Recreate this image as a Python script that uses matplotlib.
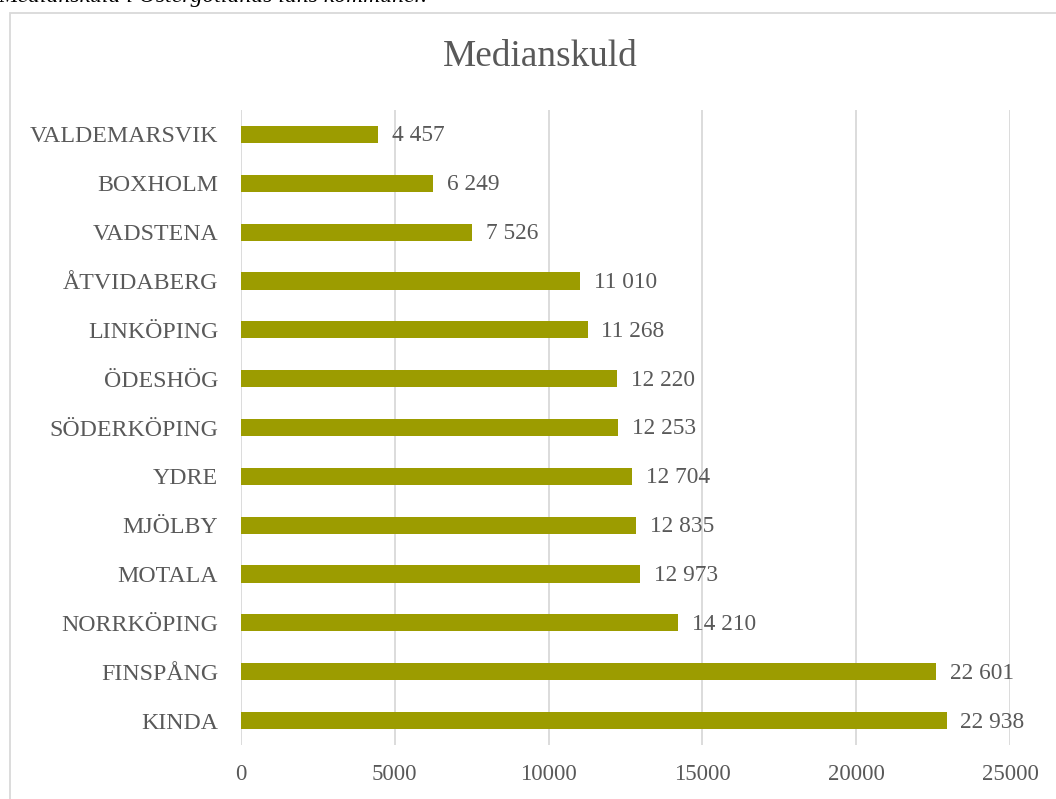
import matplotlib.pyplot as plt
from matplotlib.patches import Rectangle

kommuner = ["VALDEMARSVIK", "BOXHOLM", "VADSTENA", "ÅTVIDABERG", "LINKÖPING",
            "ÖDESHÖG", "SÖDERKÖPING", "YDRE", "MJÖLBY", "MOTALA",
            "NORRKÖPING", "FINSPÅNG", "KINDA"]
skuld = [4457, 6249, 7526, 11010, 11268, 12220, 12253, 12704, 12835, 12973,
         14210, 22601, 22938]
xticks = [0, 5000, 10000, 15000, 20000, 25000]

grey = "#595959"
plt.rcParams["font.family"] = ["Liberation Serif", "DejaVu Serif"]

fig = plt.figure(figsize=(10.56, 7.99), dpi=100)
ax = fig.add_axes([241 / 1056, 1 - 745 / 799, (1010 - 241) / 1056, 635 / 799])

y = list(range(len(kommuner)))
ax.barh(y, skuld, height=0.35, color="#9C9C00", zorder=3)
for yi, v in zip(y, skuld):
    ax.text(v + 450, yi + 0.03, f"{v:,}".replace(",", " "), va="center",
            ha="left", fontsize=16.8, color=grey)

ax.set_xlim(0, 25000)
ax.set_ylim(12.5, -0.5)
ax.set_yticks(y)
ax.set_yticklabels(kommuner, fontsize=17.2, color=grey)
ax.set_xticks(xticks)
ax.set_xticklabels([str(t) for t in xticks], fontsize=16.5, color=grey)
ax.tick_params(length=0)
ax.tick_params(axis="y", pad=16.5)
ax.tick_params(axis="x", pad=14)
ax.xaxis.grid(True, color="#D9D9D9", linewidth=1.3, zorder=0)
for s in ax.spines.values():
    s.set_visible(False)

fig.text(540 / 1056, 1 - 57 / 799, "Medianskuld", ha="center", va="center",
         fontsize=26.8, color=grey)

# chart border and clipped caption above
fig.patches.append(Rectangle((10 / 1056, -0.01), 1.0, 1 - 13 / 799 + 0.01,
                             transform=fig.transFigure, fill=False,
                             edgecolor="#D9D9D9", linewidth=1.3))
fig.text(-2 / 1056, 1 - 2 / 799, "Medianskuld i Östergötlands läns kommuner.",
         ha="left", va="baseline", fontsize=17, style="italic", color="black")

plt.savefig("out.png", dpi=100)
